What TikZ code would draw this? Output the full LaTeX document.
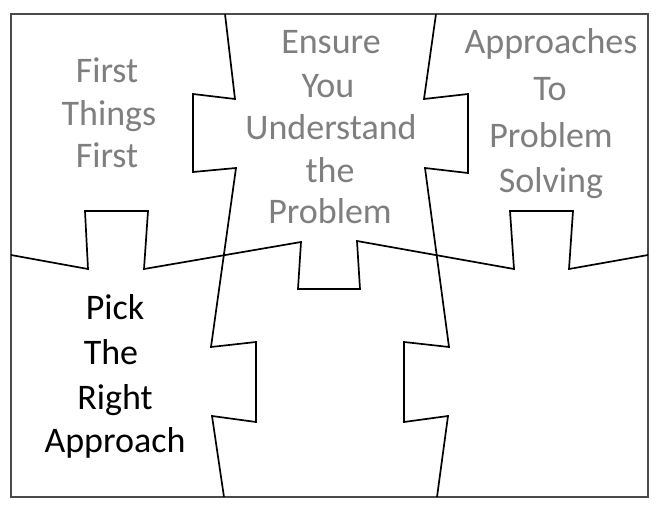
\documentclass[tikz,border=0pt]{standalone}
\usepackage{fontspec}
\setmainfont{Carlito}
\definecolor{txtgray}{HTML}{7F7F7F}
\definecolor{framegray}{HTML}{4A4A4A}
\begin{document}
\begin{tikzpicture}[x=1pt,y=-1pt,
  cut/.style={draw=black,line width=1.7pt,line join=miter},
  frame/.style={draw=framegray,line width=1.7pt},
  lbl/.style={font=\fontsize{36}{42}\selectfont,text=txtgray,inner sep=0pt,anchor=base},
  lblk/.style={lbl,text=black}]
\useasboundingbox (0,0) rectangle (667,514);
\fill[white] (0,0) rectangle (667,514);
% frame
\draw[frame] (11,14) rectangle (648,497);
% left vertical cut
\draw[cut] (225,14) -- (235,99) -- (193,94) -- (193,172) -- (236,168) -- (211,347)
  -- (256,342) -- (256,422) -- (212,416) -- (224,497);
% right vertical cut
\draw[cut] (436,14) -- (424,99) -- (468,94) -- (468,173) -- (425,168) -- (449,347)
  -- (404,342) -- (404,422) -- (448,416) -- (437,497);
% horizontal cut
\draw[cut] (11,255) -- (88,269) -- (85,211) -- (148,211) -- (144,269) -- (301,242)
  -- (298,289) -- (360,289) -- (357,241) -- (514,269) -- (510,211) -- (573,211)
  -- (569,269) -- (648,255);
% labels
\node[lbl] (f1) at (107,82) {First};
\node[lbl] (f2) at (109,125) {Things};
\node[lbl] (f3) at (107,167) {First};
\node[lbl] (e1) at (331,53) {Ensure};
\node[lbl] (e2) at (328,97) {You};
\node[lbl] (e3) at (331,139) {Understand};
\node[lbl] (e4) at (330,182) {the};
\node[lbl] (e5) at (330,223) {Problem};
\node[lbl] (a1) at (551,53) {Approaches};
\node[lbl] (a2) at (550,100) {To};
\node[lbl] (a3) at (551,147) {Problem};
\node[lbl] (a4) at (551,192) {Solving};
\node[lblk] (p1) at (115,319) {Pick};
\node[lblk] (p2) at (111,364) {The};
\node[lblk] (p3) at (115,409) {Right};
\node[lblk] (p4) at (115,452) {Approach};
\end{tikzpicture}
\end{document}
